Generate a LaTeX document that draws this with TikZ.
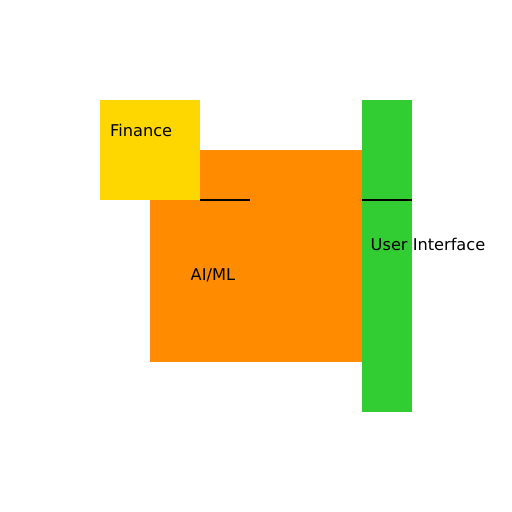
\documentclass[tikz,border=0pt]{standalone}
\usepackage{fontspec}
\setmainfont{DejaVu Sans}
\definecolor{gold}{HTML}{FFD700}
\definecolor{dorange}{HTML}{FF8C00}
\definecolor{lgreen}{HTML}{32CD32}
\begin{document}
\begin{tikzpicture}[x=1pt,y=-1pt,
  box/.style={draw=none,inner sep=0pt,outer sep=0pt},
  lbl/.style={anchor=base west,inner sep=0pt,font=\fontsize{16.2}{18}\selectfont},
  link/.style={line width=1.6pt,black}]
\useasboundingbox (0,0) rectangle (512,512);
\fill[white] (0,0) rectangle (512,512);
\node[box,fill=dorange,minimum width=212pt,minimum height=212pt,anchor=north west] (ai) at (150,150) {};
\node[box,fill=gold,minimum width=100pt,minimum height=100pt,anchor=north west] (fin) at (100,100) {};
\node[box,fill=lgreen,minimum width=50pt,minimum height=312pt,anchor=north west] (ui) at (362,100) {};
\coordinate (l1a) at (200,200);
\coordinate (l1b) at (250,200);
\coordinate (l2a) at (362,200);
\coordinate (l2b) at (412,200);
\draw[link] (l1a) -- (l1b);
\draw[link] (l2a) -- (l2b);
\node[lbl] (tfin) at (110,136) {Finance};
\node[lbl] (tai) at (190.5,280) {AI/ML};
\node[lbl] (tui) at (370.5,250.5) {User Interface};
\end{tikzpicture}
\end{document}
